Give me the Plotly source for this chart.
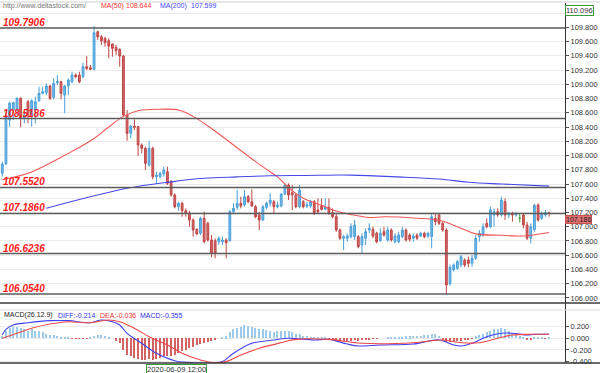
import plotly.graph_objects as go

# ---------------- data ----------------
opens = [107.750, 107.881, 108.499, 108.639, 108.639, 108.803, 108.522, 108.756, 108.545, 108.639,
         108.770, 108.873, 108.882, 108.976, 108.817, 109.023, 109.037, 108.850, 108.976, 109.037,
         109.130, 109.130, 109.107, 109.247, 109.233, 109.210, 109.738, 109.668, 109.645, 109.612,
         109.566, 109.519, 109.491, 109.397, 108.569, 108.312, 108.414, 108.405, 108.148, 108.101,
         107.867, 108.101, 107.703, 107.703, 107.740, 107.773, 107.633, 107.446, 107.281, 107.329,
         107.225, 107.188, 107.095, 106.964, 106.908, 107.118, 107.048, 106.814, 106.804, 106.790,
         106.790, 106.814, 106.804, 107.211, 107.272, 107.329, 107.305, 107.422, 107.351, 107.281,
         107.165, 107.095, 107.272, 107.329, 107.351, 107.281, 107.291, 107.460, 107.586, 107.478,
         107.446, 107.281, 107.351, 107.291, 107.291, 107.351, 107.235, 107.291, 107.244, 107.272,
         107.197, 107.141, 106.954, 106.838, 106.838, 106.860, 106.860, 106.860, 106.744, 106.838,
         106.954, 106.964, 106.908, 106.804, 106.930, 106.814, 106.954, 106.790, 106.790, 106.860,
         106.954, 106.884, 106.838, 106.884, 106.870, 106.908, 106.870, 106.860, 107.118, 107.165,
         107.048, 106.954, 106.200, 106.393, 106.416, 106.463, 106.533, 106.533, 106.486, 106.557,
         106.860, 106.884, 107.048, 107.000, 107.165, 107.211, 107.165, 107.351, 107.165, 107.188,
         107.165, 107.120, 107.165, 107.024, 106.838, 106.960, 107.305, 107.118, 107.165, 107.197]
highs = [107.913, 108.593, 108.756, 108.756, 108.817, 108.817, 108.615, 108.779, 108.789, 108.826,
         108.966, 108.966, 109.014, 108.990, 109.084, 109.130, 109.050, 108.990, 109.084, 109.177,
         109.154, 109.177, 109.303, 109.397, 109.271, 109.818, 109.752, 109.692, 109.668, 109.645,
         109.575, 109.552, 109.505, 109.411, 108.639, 108.428, 108.508, 108.414, 108.171, 108.124,
         108.208, 108.124, 107.773, 107.773, 107.843, 107.843, 107.656, 107.469, 107.351, 107.351,
         107.258, 107.225, 107.118, 106.978, 107.141, 107.211, 107.071, 106.884, 106.838, 106.860,
         106.860, 106.838, 107.235, 107.329, 107.516, 107.422, 107.516, 107.446, 107.525, 107.305,
         107.211, 107.305, 107.351, 107.469, 107.375, 107.351, 107.469, 107.610, 107.610, 107.586,
         107.469, 107.586, 107.375, 107.351, 107.375, 107.375, 107.399, 107.399, 107.399, 107.399,
         107.258, 107.188, 106.978, 106.884, 106.908, 107.048, 107.095, 106.884, 106.908, 106.978,
         107.048, 107.000, 106.930, 106.978, 107.000, 107.000, 106.978, 106.908, 106.930, 107.000,
         106.978, 106.908, 106.908, 106.908, 106.930, 106.930, 106.930, 107.188, 107.188, 107.188,
         107.071, 106.978, 106.470, 106.486, 106.533, 106.603, 106.557, 106.580, 106.603, 106.884,
         106.954, 107.048, 107.118, 107.281, 107.258, 107.258, 107.422, 107.399, 107.211, 107.211,
         107.211, 107.190, 107.188, 107.071, 107.048, 107.320, 107.329, 107.211, 107.235, 107.211]
lows = [107.703, 107.867, 108.405, 108.499, 108.569, 108.396, 108.452, 108.452, 108.405, 108.452,
        108.756, 108.860, 108.850, 108.779, 108.789, 108.990, 108.789, 108.593, 108.850, 109.014,
        109.084, 109.014, 109.084, 109.200, 109.200, 109.200, 109.622, 109.552, 109.528, 109.365,
        109.387, 109.411, 109.247, 108.545, 108.208, 108.242, 108.358, 107.993, 108.031, 107.797,
        107.843, 107.666, 107.600, 107.680, 107.703, 107.586, 107.422, 107.258, 107.225, 107.141,
        107.141, 107.000, 106.860, 106.884, 106.884, 106.767, 106.790, 106.571, 106.557, 106.744,
        106.744, 106.557, 106.790, 107.188, 107.235, 107.258, 107.281, 107.329, 107.281, 107.118,
        106.954, 107.085, 107.244, 107.281, 107.188, 107.258, 107.272, 107.446, 107.375, 107.235,
        107.258, 107.258, 107.258, 107.258, 107.258, 107.165, 107.188, 107.225, 107.235, 107.165,
        107.118, 106.930, 106.814, 106.673, 106.790, 106.838, 106.814, 106.697, 106.627, 106.744,
        106.908, 106.838, 106.767, 106.790, 106.860, 106.790, 106.790, 106.767, 106.767, 106.838,
        106.790, 106.790, 106.790, 106.814, 106.852, 106.838, 106.838, 106.697, 107.024, 107.024,
        106.930, 106.050, 106.168, 106.369, 106.393, 106.430, 106.430, 106.430, 106.439, 106.533,
        106.790, 106.860, 106.978, 106.978, 107.000, 107.141, 107.141, 107.095, 107.118, 107.071,
        107.141, 107.060, 106.978, 106.814, 106.767, 106.930, 107.071, 107.095, 107.141, 107.141]
closes = [107.881, 108.545, 108.733, 108.742, 108.803, 108.522, 108.569, 108.569, 108.770, 108.756,
          108.873, 108.896, 108.976, 108.803, 109.014, 109.037, 108.873, 108.976, 109.060, 109.130,
          109.107, 109.037, 109.247, 109.224, 109.210, 109.724, 109.668, 109.612, 109.584, 109.538,
          109.505, 109.472, 109.397, 108.569, 108.312, 108.414, 108.396, 108.148, 108.101, 107.891,
          108.101, 107.703, 107.726, 107.750, 107.797, 107.610, 107.446, 107.281, 107.329, 107.225,
          107.188, 107.095, 106.954, 106.898, 107.118, 106.790, 106.814, 106.627, 106.627, 106.838,
          106.814, 106.776, 107.211, 107.258, 107.329, 107.291, 107.422, 107.351, 107.291, 107.141,
          107.095, 107.281, 107.329, 107.375, 107.281, 107.305, 107.460, 107.586, 107.446, 107.446,
          107.281, 107.516, 107.281, 107.305, 107.351, 107.188, 107.211, 107.244, 107.272, 107.197,
          107.141, 106.954, 106.838, 106.860, 106.870, 107.000, 107.024, 106.720, 106.860, 106.930,
          106.978, 106.870, 106.790, 106.908, 106.884, 106.954, 106.814, 106.870, 106.884, 106.954,
          106.814, 106.824, 106.870, 106.838, 106.908, 106.860, 106.908, 107.141, 107.071, 107.048,
          106.954, 106.182, 106.430, 106.463, 106.509, 106.580, 106.463, 106.486, 106.557, 106.838,
          106.908, 107.000, 107.000, 107.235, 107.211, 107.165, 107.375, 107.165, 107.188, 107.165,
          107.175, 107.120, 107.024, 106.838, 107.000, 107.300, 107.095, 107.188, 107.197, 107.186]

ma50_idx = [0, 8, 18, 25, 29, 33, 37, 43, 48, 52, 57, 65, 71, 75, 78, 82, 87, 91, 95, 100,
            104, 113, 119, 125, 129, 136, 142, 144, 149]
ma50_val = [107.66, 107.77, 108.03, 108.24, 108.40, 108.55, 108.63, 108.65, 108.64, 108.55,
            108.38, 108.07, 107.84, 107.70, 107.55, 107.40, 107.30, 107.22, 107.17, 107.13,
            107.14, 107.12, 107.09, 106.98, 106.90, 106.88, 106.87, 106.88, 106.92]
ma200_idx = [12, 34, 46, 55, 64, 73, 82, 95, 108, 119, 127, 136, 149]
ma200_val = [107.26, 107.54, 107.63, 107.68, 107.70, 107.715, 107.72, 107.725, 107.70, 107.67,
             107.625, 107.60, 107.57]

levels = [109.7906, 108.5186, 107.5520, 107.1860, 106.6236, 106.0540]

macd_hist = [0.03, 0.12, 0.17, 0.20, 0.20, 0.18, 0.15, 0.12, 0.15, 0.13,
             0.12, 0.10, 0.08, 0.06, 0.05, 0.04, 0.02, 0.01, 0.005, -0.005,
             -0.01, -0.01, -0.01, -0.005, 0.005, 0.04, 0.06, 0.05, 0.04, 0.02,
             0.0, -0.05, -0.08, -0.20, -0.28, -0.30, -0.33, -0.36, -0.38, -0.38,
             -0.36, -0.38, -0.36, -0.33, -0.30, -0.30, -0.30, -0.28, -0.25, -0.22,
             -0.20, -0.17, -0.15, -0.12, -0.10, -0.08, -0.06, -0.04, -0.02, 0.0,
             0.01, 0.03, 0.10, 0.15, 0.18, 0.20, 0.22, 0.21, 0.20, 0.18,
             0.15, 0.16, 0.14, 0.13, 0.11, 0.12, 0.12, 0.13, 0.12, 0.10,
             0.08, 0.07, 0.04, 0.03, 0.02, 0.02, 0.01, 0.01, 0.005, -0.01,
             -0.02, -0.04, -0.05, -0.05, -0.05, -0.04, -0.03, -0.04, -0.03, -0.02,
             -0.02, -0.01, -0.01, 0.0, 0.0, 0.01, 0.01, 0.01, 0.02, 0.02,
             0.03, 0.03, 0.04, 0.04, 0.04, 0.05, 0.05, 0.08, 0.07, 0.04,
             -0.03, -0.06, -0.06, -0.05, -0.05, -0.04, -0.03, -0.02, -0.01, 0.03,
             0.06, 0.08, 0.10, 0.13, 0.15, 0.16, 0.17, 0.15, 0.12, 0.09,
             0.06, 0.03, 0.01, -0.02, -0.03, 0.01, 0.01, 0.005, -0.005, 0.005]
diff_idx = [0, 1, 3, 7, 13, 18, 24, 27, 30, 32, 34, 38, 42, 47, 52, 57, 60, 63, 68, 74,
            78, 85, 89, 94, 97, 103, 112, 119, 123, 125, 128, 132, 136, 139, 143, 145, 149]
diff_val = [0.055, 0.152, 0.226, 0.265, 0.300, 0.300, 0.265, 0.311, 0.282, 0.226,
            0.084, -0.087, -0.258, -0.385, -0.420, -0.420, -0.400, -0.258, -0.087, -0.031,
            0.0, -0.03, -0.02, -0.10, -0.133, -0.116, -0.10, -0.03, -0.116, -0.133,
            -0.087, 0.026, 0.084, 0.084, 0.055, 0.067, 0.067]
dea_idx = [0, 4, 8, 13, 18, 24, 29, 32, 36, 40, 45, 49, 54, 58, 61, 65, 70, 76, 80, 89,
           98, 112, 120, 125, 130, 135, 139, 144, 149]
dea_val = [0.0, 0.084, 0.170, 0.243, 0.282, 0.265, 0.311, 0.282, 0.170, 0.026,
           -0.116, -0.258, -0.372, -0.419, -0.400, -0.287, -0.173, -0.075, -0.020, -0.020,
           -0.087, -0.077, -0.030, -0.077, -0.077, 0.000, 0.055, 0.067, 0.067]

price_ticks = [106.0, 106.2, 106.4, 106.6, 106.8, 107.0, 107.2, 107.4, 107.6, 107.8,
               108.0, 108.2, 108.4, 108.6, 108.8, 109.0, 109.2, 109.4, 109.6, 109.8, 110.0]
macd_ticks = [-0.4, -0.2, 0.0, 0.2]

header_site = "http://www.deltastock.com/"
ma50_label, ma50_cur = "MA(50)", "108.644"
ma200_label, ma200_cur = "MA(200)", "107.599"
macd_title = "MACD(26.12.9)"
diff_label, dea_label, macd_label = "DIFF:-0.214", "DEA:-0.036", "MACD:-0.355"
top_price = "110.096"
cursor_time = "2020-06-09 12:00"

# ---------------- figure ----------------
W, H = 600, 373
PL, PR, PT, PB = 0, 35, 3, 10
plot_w = W - PL - PR
plot_h = H - PT - PB
split = 60 / plot_h  # MACD panel height fraction
FONT = "Liberation Sans, Arial, sans-serif"

def px_to_paper_y(py):
    return (H - PB - py) / plot_h

def px_to_paper_x(px):
    return px / plot_w

idx = list(range(len(opens)))
nd = [i for i in idx if opens[i] != closes[i]]
dj = [i for i in idx if opens[i] == closes[i]]

fig = go.Figure()

fig.add_trace(go.Candlestick(
    x=nd, open=[opens[i] for i in nd], high=[highs[i] for i in nd],
    low=[lows[i] for i in nd], close=[closes[i] for i in nd],
    increasing=dict(line=dict(color="#4a9fd8", width=1), fillcolor="#74bbe8"),
    decreasing=dict(line=dict(color="#bf4545", width=1), fillcolor="#d26a6a"),
    whiskerwidth=0, xaxis="x", yaxis="y", showlegend=False))

for i in dj:
    fig.add_trace(go.Scatter(
        x=[i, i, None, i - 0.35, i + 0.35], y=[lows[i], highs[i], None, opens[i], closes[i]],
        mode="lines", line=dict(color="#2e9a2e", width=1), showlegend=False,
        xaxis="x", yaxis="y"))

fig.add_trace(go.Scatter(x=ma50_idx, y=ma50_val, mode="lines", line=dict(color="#f25757", width=1.1, shape="spline"),
                         xaxis="x", yaxis="y", showlegend=False))
fig.add_trace(go.Scatter(x=ma200_idx, y=ma200_val, mode="lines", line=dict(color="#4848e6", width=1.1, shape="spline"),
                         xaxis="x", yaxis="y", showlegend=False))

fig.add_trace(go.Bar(x=idx, y=macd_hist, width=0.3,
                     marker=dict(color=["#9ccbea" if v >= 0 else "#d46262" for v in macd_hist], line=dict(width=0)),
                     xaxis="x", yaxis="y2", showlegend=False))
fig.add_trace(go.Scatter(x=diff_idx, y=diff_val, mode="lines", line=dict(color="#4040f0", width=1.1, shape="spline"),
                         xaxis="x", yaxis="y2", showlegend=False))
fig.add_trace(go.Scatter(x=dea_idx, y=dea_val, mode="lines", line=dict(color="#f04848", width=1.1, shape="spline"),
                         xaxis="x", yaxis="y2", showlegend=False))

tickfont = dict(family=FONT, size=7.5, color="#333333")

fig.update_layout(
    width=W, height=H, margin=dict(l=PL, r=PR, t=PT, b=PB, autoexpand=False),
    paper_bgcolor="white", plot_bgcolor="white", showlegend=False,
    bargap=0,
    xaxis=dict(domain=[0, 1], range=[-0.627, 153.33], anchor="y2", showticklabels=False,
               showgrid=False, zeroline=False, rangeslider=dict(visible=False), showline=False,
               automargin=False),
    yaxis=dict(domain=[split, 1], range=[105.929, 110.142], side="right",
               tickvals=price_ticks, ticktext=[f"{v:.3f}" if v < 110 else "" for v in price_ticks],
               showgrid=True, gridcolor="#ebebeb", gridwidth=1, zeroline=False,
               ticks="outside", ticklen=3, tickcolor="#555", showline=True,
               linecolor="#333", linewidth=1, tickfont=tickfont, automargin=False),
    yaxis2=dict(domain=[0, split], range=[-0.424, 0.602], side="right",
                tickvals=macd_ticks, ticktext=[f"{v:.3f}" for v in macd_ticks],
                showgrid=True, gridcolor="#ebebeb", gridwidth=1, zeroline=False,
                ticks="outside", ticklen=3, tickcolor="#555", showline=True,
                linecolor="#333", linewidth=1, tickfont=tickfont, automargin=False),
    font=dict(family=FONT),
)

shapes = []
for lv in levels:
    shapes.append(dict(type="line", xref="paper", yref="y", x0=0, x1=1, y0=lv, y1=lv,
                       line=dict(color="#5c5c5c", width=1.5)))
# panel borders
for py, col, wd in [(303, "#3a3a3a", 1.5), (363, "#3a3a3a", 1.5), (310, "#dddddd", 1), (2, "#cfcfcf", 1)]:
    yy = px_to_paper_y(py)
    shapes.append(dict(type="line", xref="paper", yref="paper", x0=0, x1=W / plot_w, y0=yy, y1=yy,
                       line=dict(color=col, width=wd)))
fig.update_layout(shapes=shapes)

ann = []
for lv in levels:
    ann.append(dict(xref="paper", yref="y", x=0.004, y=lv, xanchor="left", yanchor="bottom",
                    text=f"<b><i>{lv:.4f}</i></b>", showarrow=False, borderpad=0, yshift=-1,
                    font=dict(family=FONT, size=10, color="#ff1a1a")))

hy = px_to_paper_y(6)
for px, txt, col in [(2, header_site, "#777777"), (100, ma50_label, "#ff3333"), (125, ma50_cur, "#ff3333"),
                     (159, ma200_label, "#4444ff"), (190, ma200_cur, "#4444ff")]:
    ann.append(dict(xref="paper", yref="paper", x=px_to_paper_x(px), y=hy, xanchor="left", yanchor="middle",
                    text=txt, showarrow=False, borderpad=0,
                    font=dict(family=FONT, size=7, color=col)))

my = px_to_paper_y(315)
for px, txt, col in [(3, macd_title, "#222222"), (57, diff_label, "#3333ee"), (99, dea_label, "#ee3333"),
                     (139, macd_label, "#3333ee")]:
    ann.append(dict(xref="paper", yref="paper", x=px_to_paper_x(px), y=my, xanchor="left", yanchor="middle",
                    text=txt, showarrow=False, borderpad=0,
                    font=dict(family=FONT, size=7, color=col)))

ann.append(dict(xref="paper", yref="paper", x=1.0, y=px_to_paper_y(10), xanchor="left", yanchor="middle",
                text=top_price, showarrow=False, bgcolor="white", bordercolor="#3c9c3c", borderwidth=1,
                borderpad=0, font=dict(family=FONT, size=7.5, color="#333")))
ann.append(dict(xref="paper", yref="y", x=1.0, y=closes[-1], xanchor="left", yanchor="middle", yshift=-6,
                text=f"{closes[-1]:.3f}", showarrow=False, bgcolor="#e07070", bordercolor="#c85050", borderwidth=1,
                borderpad=0, font=dict(family=FONT, size=7, color="#222")))
ann.append(dict(xref="paper", yref="paper", x=px_to_paper_x(176.5), y=0, xanchor="center", yanchor="top",
                yshift=-1, text=cursor_time, showarrow=False, bgcolor="white", bordercolor="#3c9c3c",
                borderwidth=1, borderpad=0, font=dict(family=FONT, size=7.5, color="#333")))
fig.update_layout(annotations=ann)

fig.write_html("out.html", config={"displayModeBar": False},
               post_script="document.body.style.margin='0';document.body.style.padding='0';")
